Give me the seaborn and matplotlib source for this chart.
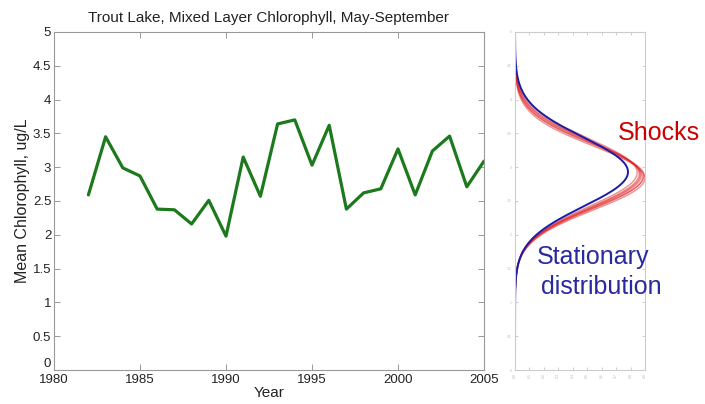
import numpy as np
import pandas as pd
import matplotlib
matplotlib.use("Agg")
import matplotlib.pyplot as plt
import seaborn as sns

years = list(range(1982, 2006))
chlorophyll = [2.59, 3.45, 2.99, 2.87, 2.38, 2.37, 2.16, 2.51, 1.98, 3.15,
               2.57, 3.64, 3.70, 3.03, 3.62, 2.38, 2.62, 2.68, 3.27, 2.59,
               3.24, 3.46, 2.71, 3.09]
x_ticks = [1980, 1985, 1990, 1995, 2000, 2005]
y_ticks = [0, 0.5, 1, 1.5, 2, 2.5, 3, 3.5, 4, 4.5, 5]
y_tick_labels = ["0", "0.5", "1", "1.5", "2", "2.5", "3", "3.5", "4", "4.5", "5"]

# stationary distribution (normal) parameters
stat_mean = 2.93
stat_sd = 0.51
# shock distributions (normal) parameters and relative height
shock_means = [2.84, 2.86, 2.88, 2.90, 2.92, 2.87, 2.89]
shock_sds = [0.470, 0.478, 0.484, 0.492, 0.500, 0.474, 0.488]
shock_scale = 1.06

sns.set_style("white")
plt.rcParams['font.family'] = ['Liberation Sans', 'DejaVu Sans']

fig = plt.figure(figsize=(7.05, 4.04), dpi=100)
ax = fig.add_axes([54/705, 34/404, 430/705, 338/404])
ax2 = fig.add_axes([515/705, 34/404, 130/705, 338/404])

df = pd.DataFrame({"Year": years, "Chl": chlorophyll})
sns.lineplot(data=df, x="Year", y="Chl", ax=ax, color="#1c7a1c", linewidth=2.3)
ax.set_xlim(1980, 2005)
ax.set_ylim(0, 5)
ax.set_xticks(x_ticks)
ax.set_xticklabels([str(t) for t in x_ticks])
ax.set_yticks(y_ticks)
ax.set_yticklabels(y_tick_labels)
ax.tick_params(direction="in", length=4, width=0.6, color="#888888",
               labelsize=9.5, labelcolor="#222222", top=True, right=True,
               left=True, bottom=True, pad=2)
ax.tick_params(axis="x", pad=3)
ax.get_yticklabels()[0].set_verticalalignment("bottom")
for s in ax.spines.values():
    s.set_color("#999999")
    s.set_linewidth(0.8)
ax.set_xlabel("Year", fontsize=11, color="#222222", labelpad=0)
ax.set_ylabel("Mean Chlorophyll, ug/L", fontsize=11.5, color="#222222", labelpad=2)
ax.set_title("Trout Lake, Mixed Layer Chlorophyll, May-September",
             fontsize=11, color="#222222", pad=7)

grid = np.linspace(0, 5, 400)

def normal_pdf(v, m, s):
    return np.exp(-0.5 * ((v - m) / s) ** 2) / (s * np.sqrt(2 * np.pi))

for m, s in zip(shock_means, shock_sds):
    sns.lineplot(x=shock_scale * normal_pdf(grid, m, s), y=grid, orient="y",
                 sort=False, ax=ax2, color="#dd2222", linewidth=1.0, alpha=0.5)
sns.lineplot(x=normal_pdf(grid, stat_mean, stat_sd), y=grid, orient="y",
             sort=False, ax=ax2, color="#1c1ca8", linewidth=1.4)
ax2.set_xlim(0, 0.9)
ax2.set_ylim(0, 5)
ax2.set_xticks(np.arange(0, 0.91, 0.1))
ax2.set_xticklabels([f"{t:.1f}" for t in np.arange(0, 0.91, 0.1)], rotation=90)
ax2.set_yticks(y_ticks)
ax2.set_yticklabels(y_tick_labels)
ax2.tick_params(direction="in", length=2, width=0.4, color="#aaaaaa",
                labelsize=2.5, labelcolor="#bbbbbb", top=True, right=True,
                left=True, bottom=True, pad=2)
for s in ax2.spines.values():
    s.set_color("#cccccc")
    s.set_linewidth(0.8)
ax2.set_xlabel("")
ax2.set_ylabel("")

fig.text(618/705, 1 - 133/404, "Shocks", color="#cc0000", fontsize=18,
         ha="left", va="center")
fig.text(537/705, 1 - 257/404, "Stationary", color="#2a2aa0",
         fontsize=18, ha="left", va="center")
fig.text(541/705, 1 - 287/404, "distribution", color="#2a2aa0",
         fontsize=18, ha="left", va="center")

fig.savefig("out.png", dpi=100)
